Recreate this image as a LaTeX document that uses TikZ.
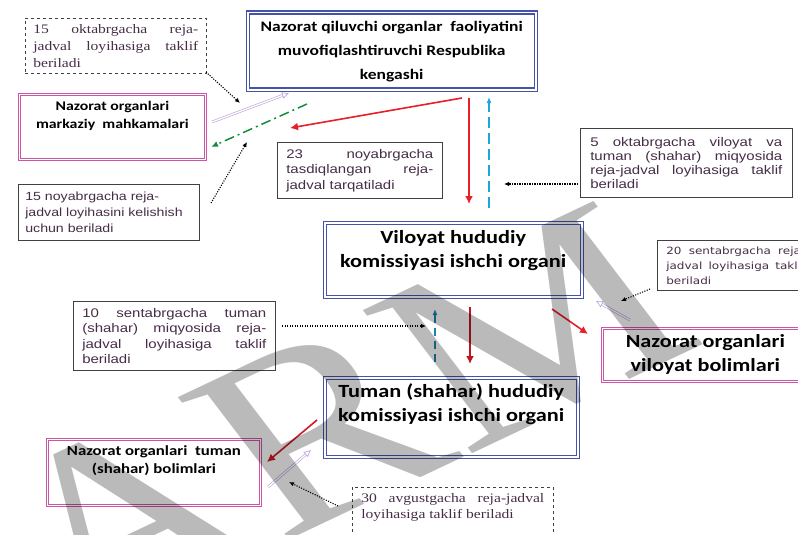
\documentclass[tikz,border=0pt]{standalone}
\usepackage{fontspec}
\setmainfont[FakeStretch=1.2]{Liberation Serif}
\newfontfamily\calibri[FakeStretch=1.2]{Carlito}
\newfontfamily\arial[FakeStretch=1.2]{Liberation Sans}
\newfontfamily\verdana[FakeStretch=1.2]{DejaVu Sans}
\newfontfamily\wmfont{Liberation Serif}
\usetikzlibrary{arrows.meta}
\definecolor{frameblue}{RGB}{70,84,168}
\definecolor{framepink}{RGB}{205,85,165}
\definecolor{lilac}{RGB}{185,160,215}
\definecolor{arrowred}{RGB}{232,30,40}
\definecolor{darkred}{RGB}{192,20,32}
\definecolor{skyblue}{RGB}{30,165,220}
\definecolor{dashgreen}{RGB}{20,140,60}
\definecolor{notetext}{RGB}{70,45,70}
\hyphenpenalty=10000

\begin{document}
\begin{tikzpicture}[x=1pt,y=-1pt]
	\tikzstyle{bluebox}=[draw=frameblue, line width=1.4pt, double=white, double distance=1.6pt, inner sep=0pt, anchor=north west]
	\tikzstyle{pinkbox}=[draw=framepink, line width=0.8pt, double=white, double distance=1.8pt, inner sep=0pt, anchor=north west]
	\tikzstyle{note}=[draw=black!75, line width=0.6pt, anchor=north west, inner ysep=3pt, align=justify, text=notetext, font=\arial\fontsize{12.5}{15.5}\selectfont]
	\tikzstyle{redarrow}=[-{Latex[length=8pt,width=8pt]}, line width=1.6pt, draw=arrowred]
	\tikzstyle{bluedash}=[-{Latex[length=6pt,width=5pt]}, line width=1.3pt, draw=skyblue, dash pattern=on 11pt off 5pt]
	\tikzstyle{lilacarrow}=[-{Latex[open,length=7pt,width=7pt]}, line width=0.6pt, double distance=1.4pt, draw=lilac]
	\tikzstyle{hint}=[-{Latex[length=5pt,width=4.5pt]}, line width=1.1pt, dash pattern=on 1.1pt off 1.4pt]
	\clip (0,0) rectangle (798,535);

	\node[bluebox] (resp) at (247,12) {\parbox[c][77pt][c]{288pt}{\centering\calibri\bfseries\fontsize{14.6}{24}\selectfont Nazorat qiluvchi organlar\ \ faoliyatini\\ muvofiqlashtiruvchi Respublika\\ kengashi}};
	\node[bluebox] (viloyat) at (324,222) {\parbox[c][74pt][t]{257pt}{\centering\calibri\bfseries\fontsize{18.6}{24}\selectfont\vspace*{8pt}Viloyat hududiy\\ komissiyasi ishchi organi}};
	\node[bluebox] (tuman) at (324,377) {\parbox[c][79pt][t]{253pt}{\centering\calibri\bfseries\fontsize{18.6}{23.5}\selectfont\vspace*{6pt}Tuman (shahar) hududiy\\ komissiyasi ishchi organi}};
	\node[pinkbox] (markaziy) at (19,94) {\parbox[c][65pt][t]{186pt}{\centering\calibri\bfseries\fontsize{13.2}{18}\selectfont\vspace*{6.5pt}Nazorat organlari\\ markaziy\ \ mahkamalari}};
	\node[pinkbox] (vilbolim) at (602,328) {\parbox[c][53pt][c]{206pt}{\centering\calibri\bfseries\fontsize{18.5}{24}\selectfont Nazorat organlari\\ viloyat bolimlari}};
	\node[pinkbox] (tumbolim) at (47,439) {\parbox[c][66pt][t]{213pt}{\centering\calibri\bfseries\fontsize{14}{18}\selectfont\vspace*{6pt}Nazorat\ organlari\ \ tuman\\ (shahar)\ bolimlari}};

	\node[note, dashed, inner xsep=8pt, text width=165pt, minimum height=55pt, font=\fontsize{13}{17}\selectfont] (okt15) at (25,18) {15 oktabrgacha reja-\linebreak jadval loyihasiga taklif\linebreak beriladi};
	\node[note, inner xsep=7pt, text width=167pt, minimum height=56pt, align=left, font=\arial\fontsize{11.8}{16}\selectfont] (noy15) at (18,184) {15 noyabrgacha reja-\\jadval loyihasini kelishish\\uchun beriladi};
	\node[note, inner xsep=9pt, text width=147pt, minimum height=56pt] (noy23) at (277,142) {23 noyabrgacha\linebreak tasdiqlangan reja-\linebreak jadval tarqatiladi};
	\node[note, inner xsep=10pt, text width=192pt, minimum height=69pt, font=\arial\fontsize{12.5}{14}\selectfont] (okt5) at (580,128) {5 oktabrgacha viloyat va\linebreak tuman (shahar) miqyosida\linebreak reja-jadval loyihasiga taklif\linebreak beriladi};
	\node[note, inner xsep=9pt, text width=184pt, minimum height=69pt] (sen10) at (73,301) {10 sentabrgacha tuman\linebreak (shahar) miqyosida reja-\linebreak jadval loyihasiga taklif\linebreak beriladi};
	\node[note, inner xsep=9pt, text width=139pt, minimum height=50pt, font=\verdana\fontsize{10}{15}\selectfont] (sen20) at (657,240) {20 sentabrgacha reja-\linebreak jadval loyihasiga taklif\linebreak beriladi};
	\node[note, dashed, inner xsep=9pt, inner ysep=6pt, text width=183pt, font=\fontsize{13}{16}\selectfont] (avg30) at (352,487) {30 avgustgacha reja-jadval\linebreak loyihasiga taklif beriladi\par\vspace{20pt}};

	\coordinate (r1a) at (462,98); \coordinate (r1b) at (290,128);
	\coordinate (r2a) at (469,98); \coordinate (r2b) at (469,204);
	\coordinate (b1a) at (489,208); \coordinate (b1b) at (489,97);
	\coordinate (g1a) at (307,104); \coordinate (g1b) at (211,147);
	\coordinate (l1a) at (212,122); \coordinate (l1b) at (289,93);
	\coordinate (h1a) at (206,72); \coordinate (h1b) at (240,103);
	\coordinate (h2a) at (211,203); \coordinate (h2b) at (247,142);
	\coordinate (h3a) at (578,184); \coordinate (h3b) at (504,184);
	\coordinate (r3a) at (470,307); \coordinate (r3b) at (470,364);
	\coordinate (b2a) at (435,362); \coordinate (b2b) at (435,309);
	\coordinate (h4a) at (282,326); \coordinate (h4b) at (426,326);
	\coordinate (r4a) at (552,309); \coordinate (r4b) at (588,334);
	\coordinate (l2a) at (630,320); \coordinate (l2b) at (596,301);
	\coordinate (h5a) at (650,289); \coordinate (h5b) at (621,301);
	\coordinate (r5a) at (317,420); \coordinate (r5b) at (267,462);
	\coordinate (l3a) at (268,487); \coordinate (l3b) at (311,450);
	\coordinate (h6a) at (338,506); \coordinate (h6b) at (289,482);

	\draw[redarrow] (r1a) -- (r1b);
	\draw[redarrow] (r2a) -- (r2b);
	\draw[bluedash] (b1a) -- (b1b);
	\draw[-{Latex[length=7pt,width=6pt]}, line width=1.5pt, draw=dashgreen, dash pattern=on 10pt off 4pt on 2pt off 4pt] (g1a) -- (g1b);
	\draw[lilacarrow] (l1a) -- (l1b);
	\draw[hint] (h1a) -- (h1b);
	\draw[hint] (h2a) -- (h2b);
	\draw[hint] (h3a) -- (h3b);
	\draw[redarrow, draw=darkred] (r3a) -- (r3b);
	\draw[bluedash, draw=skyblue!80!black, dash pattern=on 8pt off 5pt] (b2a) -- (b2b);
	\draw[hint] (h4a) -- (h4b);
	\draw[redarrow] (r4a) -- (r4b);
	\draw[lilacarrow] (l2a) -- (l2b);
	\draw[hint] (h5a) -- (h5b);
	\draw[redarrow, draw=arrowred!90!black] (r5a) -- (r5b);
	\draw[lilacarrow] (l3a) -- (l3b);
	\draw[hint] (h6a) -- (h6b);

	\node[xscale=1.27, rotate=31, opacity=0.27, font=\wmfont\fontsize{255}{255}\selectfont] (wm) at (340,418) {ARM};
\end{tikzpicture}
\end{document}
